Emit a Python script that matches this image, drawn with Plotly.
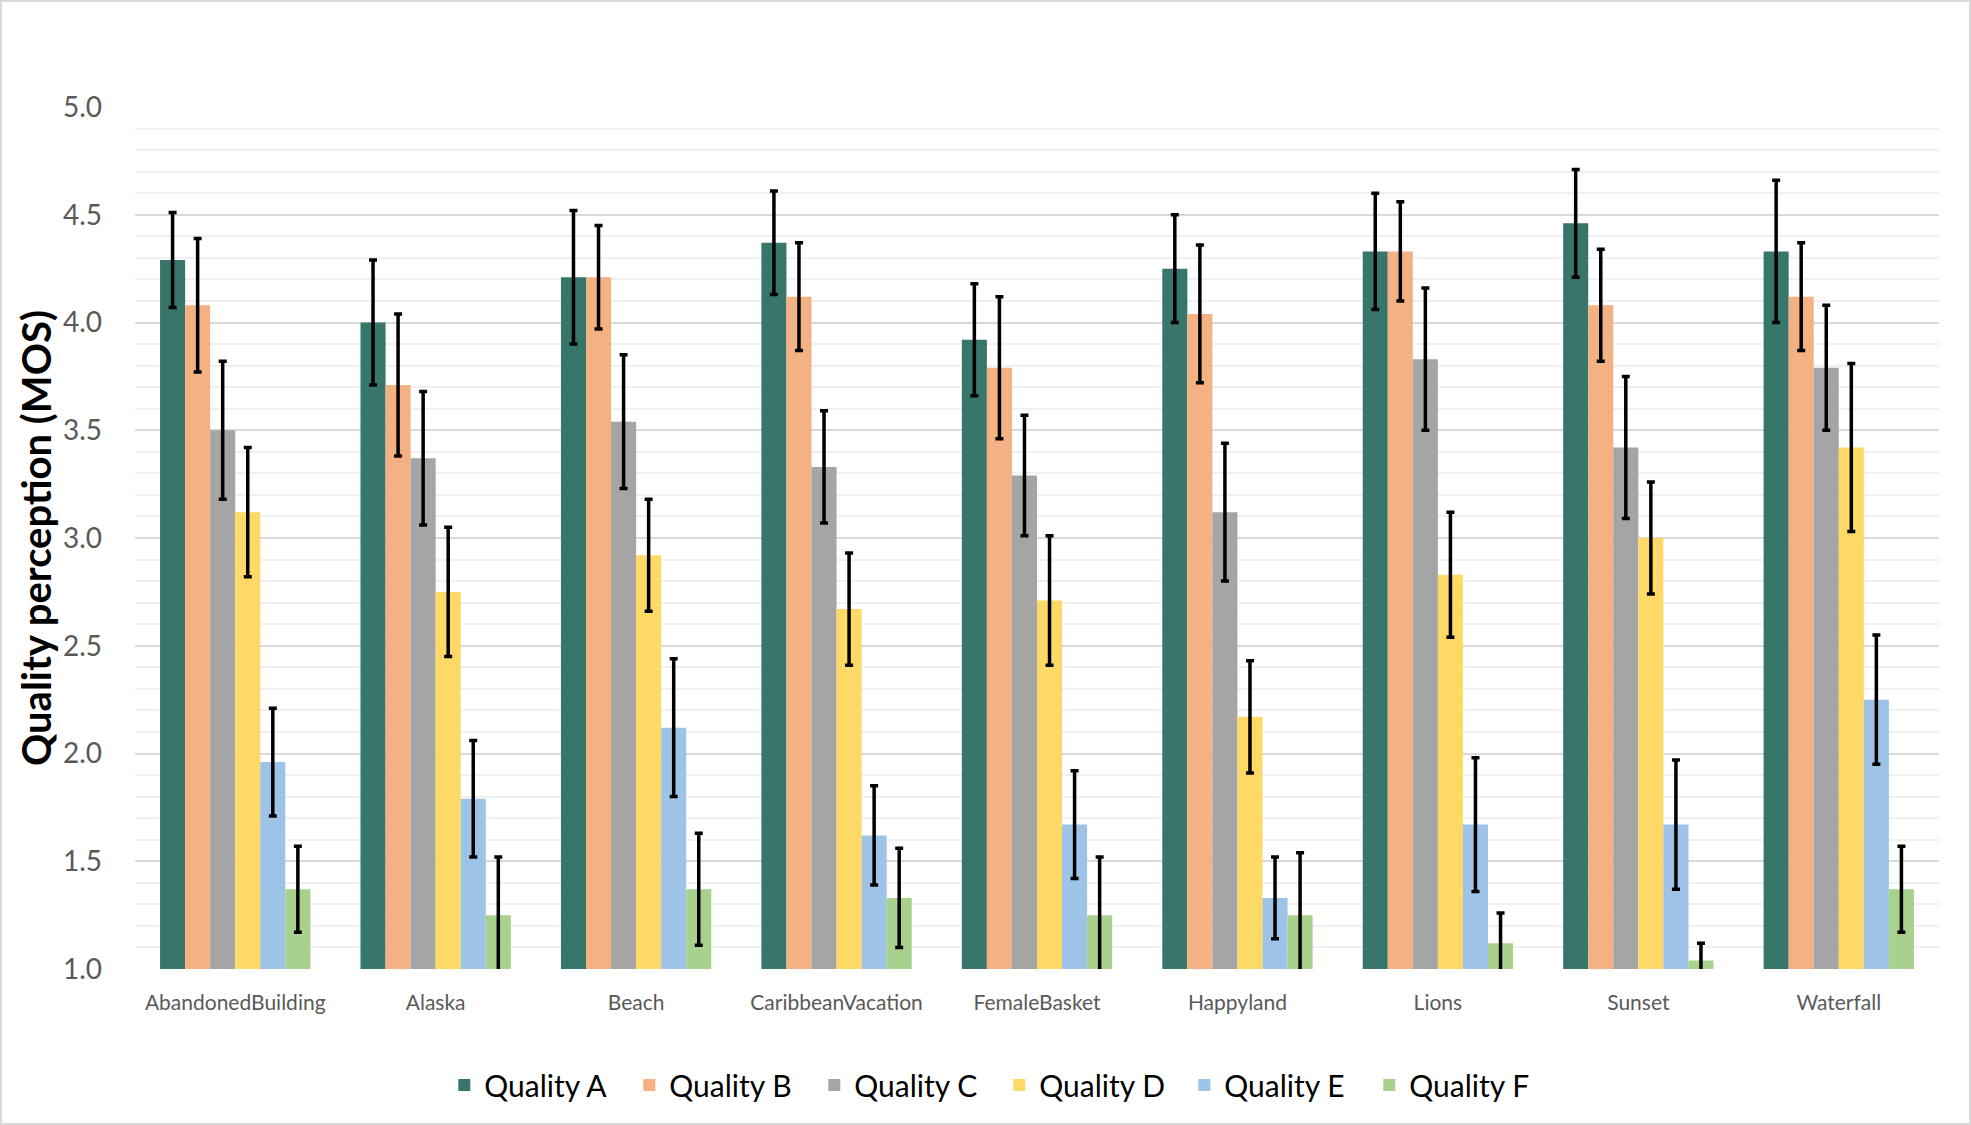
import plotly.graph_objects as go

categories = ["AbandonedBuilding", "Alaska", "Beach", "CaribbeanVacation", "FemaleBasket",
              "Happyland", "Lions", "Sunset", "Waterfall"]
series_names = ["Quality A", "Quality B", "Quality C", "Quality D", "Quality E", "Quality F"]

quality_a = [4.29, 4.00, 4.21, 4.37, 3.92, 4.25, 4.33, 4.46, 4.33]
quality_a_err = [0.22, 0.29, 0.31, 0.24, 0.26, 0.25, 0.27, 0.25, 0.33]
quality_b = [4.08, 3.71, 4.21, 4.12, 3.79, 4.04, 4.33, 4.08, 4.12]
quality_b_err = [0.31, 0.33, 0.24, 0.25, 0.33, 0.32, 0.23, 0.26, 0.25]
quality_c = [3.50, 3.37, 3.54, 3.33, 3.29, 3.12, 3.83, 3.42, 3.79]
quality_c_err = [0.32, 0.31, 0.31, 0.26, 0.28, 0.32, 0.33, 0.33, 0.29]
quality_d = [3.12, 2.75, 2.92, 2.67, 2.71, 2.17, 2.83, 3.00, 3.42]
quality_d_err = [0.30, 0.30, 0.26, 0.26, 0.30, 0.26, 0.29, 0.26, 0.39]
quality_e = [1.96, 1.79, 2.12, 1.62, 1.67, 1.33, 1.67, 1.67, 2.25]
quality_e_err = [0.25, 0.27, 0.32, 0.23, 0.25, 0.19, 0.31, 0.30, 0.30]
quality_f = [1.37, 1.25, 1.37, 1.33, 1.25, 1.25, 1.12, 1.04, 1.37]
quality_f_err = [0.20, 0.27, 0.26, 0.23, 0.27, 0.29, 0.14, 0.08, 0.20]

y_ticks = [1.0, 1.5, 2.0, 2.5, 3.0, 3.5, 4.0, 4.5, 5.0]

values = [quality_a, quality_b, quality_c, quality_d, quality_e, quality_f]
errors = [quality_a_err, quality_b_err, quality_c_err, quality_d_err, quality_e_err, quality_f_err]
colors = ["#38756B", "#F4B183", "#A5A5A5", "#FFD966", "#9DC3E6", "#A9D18E"]

W, H = 1971, 1125
ML, MR, MT, MB = 135, 32, 107, 156
PW, PH = W - ML - MR, H - MT - MB

fig = go.Figure()
for name, v, e, c in zip(series_names, values, errors, colors):
    fig.add_trace(go.Bar(
        name=name, x=categories, y=v,
        marker=dict(color=c, line=dict(width=0)),
        error_y=dict(type="data", array=e, visible=True, color="#000000",
                     thickness=3.5, width=4),
    ))

fig.update_layout(
    width=W, height=H,
    margin=dict(l=ML, r=MR, t=MT, b=MB, autoexpand=False),
    paper_bgcolor="white", plot_bgcolor="white",
    barmode="group", bargap=0.25, bargroupgap=0,
    font=dict(family="Lato", color="#595959"),
    showlegend=True,
    legend=dict(orientation="h", xref="container", x=0.507, xanchor="center",
                yref="container", y=(H - 1085) / H, yanchor="middle",
                font=dict(family="Lato", size=30, color="#000000"),
                entrywidth=140, entrywidthmode="pixels", traceorder="normal"),
    xaxis=dict(showgrid=False, showline=False, ticks="",
               tickfont=dict(family="Lato", size=21, color="#595959"),
               ticklabelstandoff=19),
    yaxis=dict(range=[1, 5], tickvals=y_ticks, ticktext=[f"{t:.1f}" for t in y_ticks],
               showgrid=True, gridcolor="#D9D9D9", gridwidth=1.5,
               zeroline=False, showline=False, ticks="",
               tickfont=dict(family="Lato", size=28, color="#595959"),
               ticklabelstandoff=32,
               minor=dict(dtick=0.1, tick0=1.0, showgrid=True, gridcolor="#F0F0F0", gridwidth=1.5)),
    annotations=[dict(text="<b>Quality perception (MOS)</b>", textangle=-90,
                      xref="paper", yref="paper", x=(36 - ML) / PW, y=0.5,
                      xanchor="center", yanchor="middle", showarrow=False,
                      font=dict(family="Lato", size=40, color="#000000"))],
    shapes=[dict(type="rect", xref="paper", yref="paper",
                 x0=(1 - ML) / PW, x1=1 + (MR - 1) / PW,
                 y0=-(MB - 1) / PH, y1=1 + (MT - 1) / PH,
                 line=dict(color="#D9D9D9", width=2), fillcolor="rgba(0,0,0,0)", layer="below")],
)

fig.write_html("out.html")
